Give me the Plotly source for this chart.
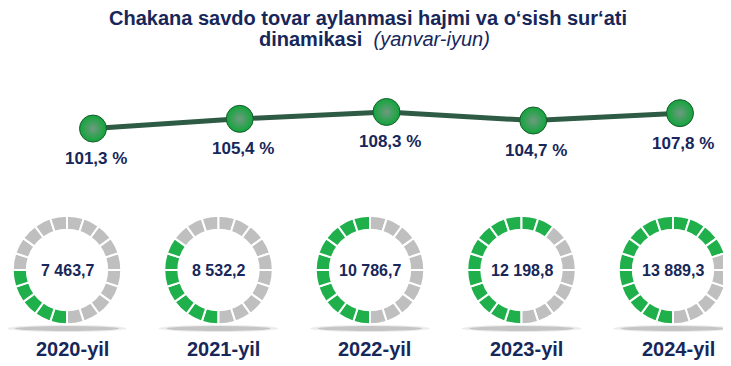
import plotly.graph_objects as go

# ---- data ----
years = ["2020-yil", "2021-yil", "2022-yil", "2023-yil", "2024-yil"]
growth_pct = [101.3, 105.4, 108.3, 104.7, 107.8]
volumes = [7463.7, 8532.2, 10786.7, 12198.8, 13889.3]
filled_segments = [5, 7, 10, 12, 14]
total_segments = 20

NAVY = "#17275a"
GREEN = "#1fb04c"
GRAY = "#bfbfbf"
W, H = 731, 366


def fmt_num(v):
    return f"{v:,.1f}".replace(",", " ").replace(".", ",")


def fmt_pct(v):
    return f"{v:.1f}".replace(".", ",") + " %"


fig = go.Figure()

# ---- line with sphere markers ----
fig.add_trace(go.Scatter(
    x=years, y=growth_pct, mode="lines+markers",
    line=dict(color="#2e5b43", width=5),
    marker=dict(size=27, color="#10a53a",
                gradient=dict(type="radial", color="#6f9a80"),
                line=dict(color="#1b5a30", width=1)),
    hoverinfo="skip", showlegend=False,
))

annotations = []
for yr, p in zip(years, growth_pct):
    annotations.append(dict(
        x=yr, y=p, xref="x", yref="y", text=f"<b>{fmt_pct(p)}</b>",
        showarrow=False, yshift=-30, xshift=3, xanchor="center", yanchor="middle",
        font=dict(family="Liberation Sans, Arial", size=17, color=NAVY)))

# ---- donuts ----
cx0, dx = 59, 151.5
cy, r_vis = 262, 50.5
r_dom = r_vis * 1.075
for i, (yr, vol, nf) in enumerate(zip(years, volumes, filled_segments)):
    cx = cx0 + i * dx
    colors = [GREEN] * nf + [GRAY] * (total_segments - nf)
    fig.add_trace(go.Pie(
        values=[1] * total_segments, sort=False, direction="clockwise",
        rotation=180, hole=0.74, textinfo="none", hoverinfo="skip",
        marker=dict(colors=colors, line=dict(color="white", width=2)),
        domain=dict(x=[(cx - r_dom) / W, (cx + r_dom) / W],
                    y=[(H - cy - r_dom) / H, (H - cy + r_dom) / H]),
        showlegend=False,
    ))
    annotations.append(dict(
        x=cx / W, y=(H - cy) / H, xref="paper", yref="paper",
        xanchor="center", yanchor="middle",
        text=f"<b>{fmt_num(vol)}</b>", showarrow=False,
        font=dict(family="Liberation Sans, Arial", size=16, color=NAVY)))
    annotations.append(dict(
        x=(cx + 5) / W, y=(H - 341) / H, xref="paper", yref="paper",
        xanchor="center", yanchor="middle",
        text=f"<b>{yr}</b>", showarrow=False,
        font=dict(family="Liberation Sans, Arial", size=20, color=NAVY)))

# shadows under donuts
shapes = []
for i in range(len(years)):
    cx = cx0 + i * dx
    for k, op in enumerate([0.08, 0.16]):
        shapes.append(dict(
            type="circle", xref="paper", yref="paper",
            x0=(cx - 60 + k * 8) / W, x1=(cx + 60 - k * 8) / W,
            y0=(H - 324 + k) / H, y1=(H - 317 - k) / H,
            fillcolor=f"rgba(0,0,0,{op})", line=dict(width=0), layer="below"))

# title (two lines)
title_lines = [
    ("<b>Chakana savdo tovar aylanmasi hajmi va o‘sish sur‘ati</b>", 360, 10),
    ("<b>dinamikasi</b>\u00a0\u00a0<i>(yanvar-iyun)</i>", 367, 31),
]
for txt, tx, ty in title_lines:
    annotations.append(dict(
        x=tx / W, y=(H - ty) / H, xref="paper", yref="paper",
        xanchor="center", yanchor="middle", text=txt, showarrow=False,
        font=dict(family="Liberation Sans, Arial", size=20, color=NAVY)))

# axes mapping
px_per_unit = 2.37
ytop_px, ybot_px = 60, 190
ref_val, ref_px = 105.5, 110.6
y0 = ref_val - (ybot_px - ref_px) / px_per_unit
y1 = ref_val + (ref_px - ytop_px) / px_per_unit

x_step = 146.75
x_first = 85

fig.update_layout(
    width=W, height=H, margin=dict(l=0, r=0, t=0, b=0),
    paper_bgcolor="white", plot_bgcolor="rgba(0,0,0,0)",
    xaxis=dict(type="category", range=[-x_first / x_step, 4 + (W - x_first - 4 * x_step) / x_step],
               visible=False, domain=[0, 1]),
    yaxis=dict(range=[y0, y1], visible=False,
               domain=[(H - ybot_px) / H, (H - ytop_px) / H]),
    annotations=annotations, shapes=shapes,
)

fig.write_html("out.html")
